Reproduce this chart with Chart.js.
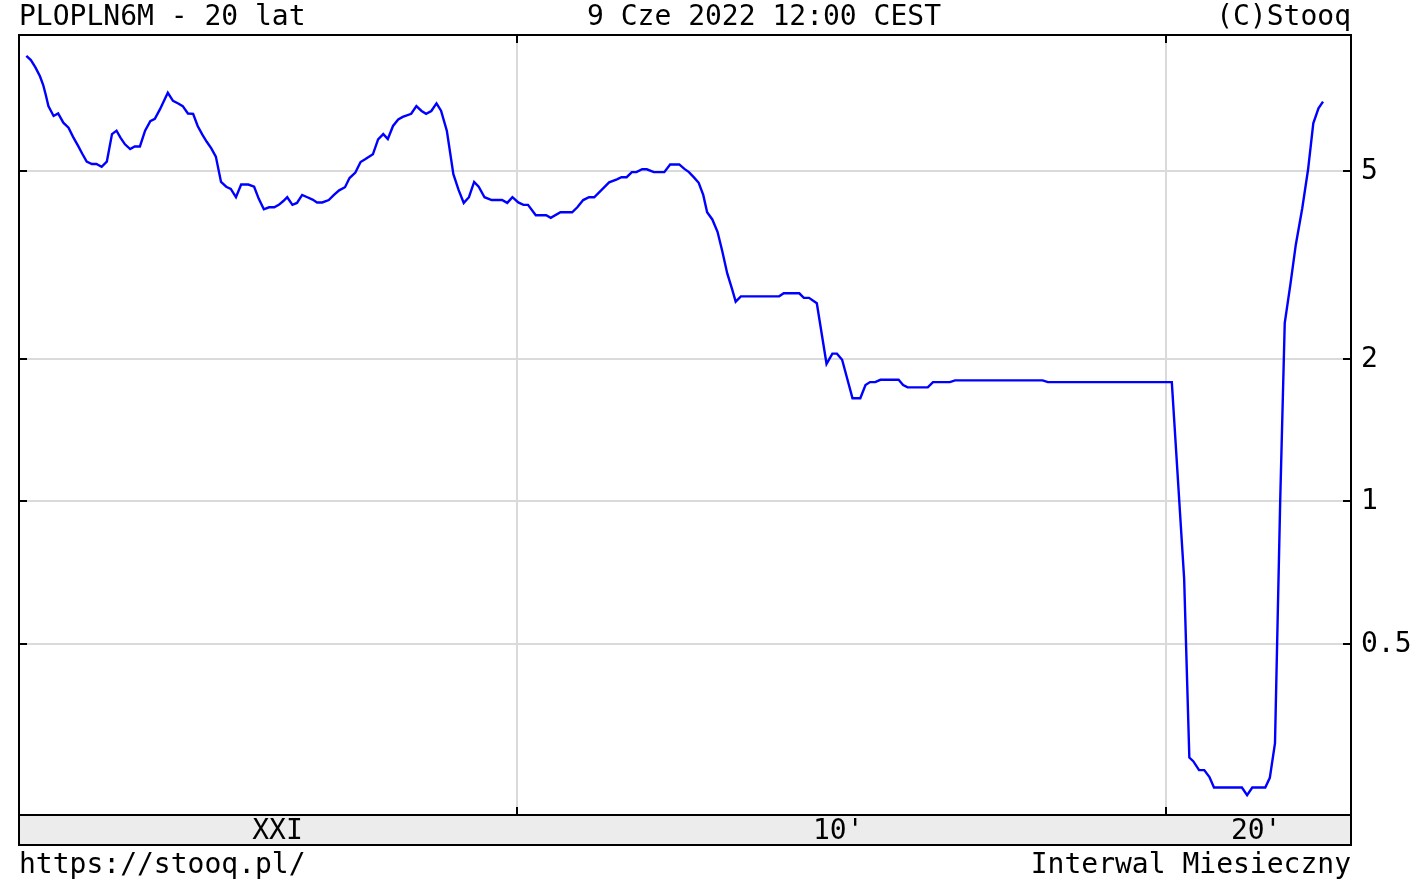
<!DOCTYPE html>
<html>
<head>
<meta charset="utf-8">
<title>PLOPLN6M - 20 lat</title>
<script src="https://cdn.jsdelivr.net/npm/chart.js@4/dist/chart.umd.min.js"></script>
<style>
  html, body { margin: 0; padding: 0; background: #fff; }
  canvas { display: block; }
</style>
</head>
<body>
<canvas id="chart" width="1413" height="879"></canvas>
<script>
// monthly closes (decimal year, rate in %)
var years = [
  2002.44, 2002.51, 2002.58, 2002.65, 2002.70, 2002.74, 2002.78, 2002.86, 2002.93, 2003.01,
  2003.09, 2003.16, 2003.24, 2003.30, 2003.37, 2003.45, 2003.52, 2003.60, 2003.68, 2003.76,
  2003.83, 2003.89, 2003.96, 2004.04, 2004.11, 2004.19, 2004.27, 2004.35, 2004.42, 2004.50,
  2004.62, 2004.70, 2004.78, 2004.85, 2004.93, 2005.01, 2005.08, 2005.15, 2005.22, 2005.29,
  2005.36, 2005.44, 2005.52, 2005.59, 2005.67, 2005.75, 2005.86, 2005.95, 2006.02, 2006.10,
  2006.18, 2006.26, 2006.33, 2006.40, 2006.46, 2006.54, 2006.61, 2006.69, 2006.77, 2006.85,
  2006.92, 2007.00, 2007.10, 2007.18, 2007.26, 2007.35, 2007.42, 2007.51, 2007.59, 2007.66,
  2007.78, 2007.86, 2007.94, 2008.01, 2008.09, 2008.17, 2008.24, 2008.37, 2008.45, 2008.53,
  2008.60, 2008.68, 2008.76, 2008.83, 2008.92, 2009.02, 2009.10, 2009.18, 2009.26, 2009.34,
  2009.41, 2009.50, 2009.61, 2009.77, 2009.85, 2009.93, 2010.02, 2010.10, 2010.17, 2010.29,
  2010.45, 2010.52, 2010.67, 2010.85, 2010.93, 2011.02, 2011.11, 2011.19, 2011.42, 2011.54,
  2011.61, 2011.69, 2011.77, 2011.84, 2011.93, 2012.00, 2012.11, 2012.27, 2012.36, 2012.50,
  2012.58, 2012.65, 2012.73, 2012.80, 2012.87, 2012.93, 2013.01, 2013.09, 2013.16, 2013.24,
  2013.31, 2013.37, 2013.45, 2014.04, 2014.11, 2014.35, 2014.42, 2014.50, 2014.62, 2014.77,
  2014.86, 2014.93, 2015.01, 2015.17, 2015.29, 2015.37, 2015.44, 2015.52, 2015.60, 2015.88,
  2015.95, 2016.02, 2016.33, 2016.41, 2016.67, 2016.75, 2018.10, 2018.18, 2020.09, 2020.28,
  2020.36, 2020.42, 2020.51, 2020.59, 2020.67, 2020.74, 2021.17, 2021.25, 2021.33, 2021.53,
  2021.60, 2021.68, 2021.76, 2021.83, 2021.92, 2022.00, 2022.10, 2022.19, 2022.27, 2022.35,
  2022.42
];
var rates = [
  8.74, 8.56, 8.26, 7.91, 7.58, 7.22, 6.84, 6.52, 6.60, 6.31,
  6.16, 5.89, 5.63, 5.43, 5.22, 5.16, 5.16, 5.09, 5.22, 5.97,
  6.07, 5.87, 5.68, 5.55, 5.62, 5.62, 6.07, 6.36, 6.43, 6.74,
  7.30, 7.02, 6.93, 6.84, 6.60, 6.59, 6.21, 5.96, 5.75, 5.57,
  5.35, 4.73, 4.62, 4.57, 4.39, 4.67, 4.67, 4.62, 4.36, 4.14,
  4.18, 4.18, 4.23, 4.31, 4.39, 4.23, 4.27, 4.44, 4.39, 4.34,
  4.28, 4.28, 4.33, 4.44, 4.54, 4.61, 4.82, 4.95, 5.21, 5.28,
  5.41, 5.82, 5.97, 5.83, 6.21, 6.41, 6.49, 6.59, 6.84, 6.68,
  6.59, 6.68, 6.93, 6.69, 6.06, 4.91, 4.55, 4.27, 4.39, 4.73,
  4.62, 4.39, 4.33, 4.33, 4.27, 4.39, 4.28, 4.23, 4.23, 4.02,
  4.02, 3.97, 4.08, 4.08, 4.18, 4.33, 4.39, 4.39, 4.72, 4.79,
  4.84, 4.84, 4.96, 4.96, 5.03, 5.03, 4.96, 4.96, 5.15, 5.15,
  5.04, 4.96, 4.83, 4.71, 4.44, 4.08, 3.94, 3.71, 3.39, 3.03,
  2.82, 2.64, 2.71, 2.71, 2.75, 2.75, 2.69, 2.69, 2.62, 1.95,
  2.05, 2.05, 1.99, 1.65, 1.65, 1.76, 1.785, 1.785, 1.805, 1.805,
  1.76, 1.74, 1.74, 1.785, 1.785, 1.80, 1.80, 1.785, 1.785, 0.686,
  0.287, 0.282, 0.270, 0.270, 0.261, 0.248, 0.248, 0.239, 0.248, 0.248,
  0.260, 0.308, 1.00, 2.38, 2.89, 3.48, 4.16, 5.03, 6.29, 6.77,
  6.99
];

var yTicks = [0.5, 1, 2, 5];
var yTickLabels = ['0.5', '1', '2', '5'];
var gridYears = [2010, 2020];
var bandPos = [2006.31, 2014.95, 2021.39];
var bandLabels = ['XXI', "10'", "20'"];

var FONT = '28px "DejaVu Sans Mono", monospace';

var points = years.map(function(yr, i) { return { x: yr, y: rates[i] }; });

// border, tick stubs, bottom band and all the texts
var frame = {
    id: 'frame',
    afterDraw: function(chart) {
        var ctx = chart.ctx;
        var a = chart.chartArea;
        var sx = chart.scales.x, sy = chart.scales.y;
        var bandH = 30;
        ctx.save();

        ctx.fillStyle = '#ececec';
        ctx.fillRect(a.left, a.bottom, a.right - a.left, bandH);
        ctx.strokeStyle = '#000';
        ctx.lineWidth = 2;
        ctx.strokeRect(a.left, a.top, a.right - a.left, a.bottom - a.top);
        ctx.strokeRect(a.left, a.bottom, a.right - a.left, bandH);

        ctx.beginPath();
        yTicks.forEach(function(v) {
            var py = Math.round(sy.getPixelForValue(v));
            ctx.moveTo(a.left, py); ctx.lineTo(a.left + 8, py);
            ctx.moveTo(a.right - 8, py); ctx.lineTo(a.right, py);
        });
        gridYears.forEach(function(v) {
            var px = Math.round(sx.getPixelForValue(v));
            ctx.moveTo(px, a.top); ctx.lineTo(px, a.top + 8);
            ctx.moveTo(px, a.bottom - 8); ctx.lineTo(px, a.bottom);
        });
        ctx.stroke();

        ctx.fillStyle = '#000';
        ctx.font = FONT;
        ctx.textBaseline = 'alphabetic';

        ctx.textAlign = 'left';
        ctx.fillText('PLOPLN6M - 20 lat', a.left, 25);
        ctx.fillText('9 Cze 2022 12:00 CEST', 587, 25);
        ctx.fillText('https://stooq.pl/', a.left, 873);
        ctx.textAlign = 'right';
        ctx.fillText('(C)Stooq', a.right, 25);
        ctx.fillText('Interwal Miesieczny', a.right, 873);

        ctx.textAlign = 'center';
        bandPos.forEach(function(v, i) {
            ctx.fillText(bandLabels[i], sx.getPixelForValue(v), a.bottom + 24);
        });

        ctx.textAlign = 'left';
        ctx.textBaseline = 'middle';
        yTicks.forEach(function(v, i) {
            ctx.fillText(yTickLabels[i], a.right + 10, sy.getPixelForValue(v) + 1);
        });
        ctx.restore();
    }
};

var ctx = document.getElementById('chart').getContext('2d');
var chart = new Chart(ctx, {
    type: 'line',
    data: {
        datasets: [{
            label: 'PLOPLN6M',
            data: points,
            borderColor: '#0000ff',
            borderWidth: 2.4,
            pointRadius: 0,
            tension: 0,
            fill: false
        }]
    },
    options: {
        responsive: false,
        animation: false,
        devicePixelRatio: 1,
        layout: { padding: { left: 19, top: 35, right: 62, bottom: 64 } },
        plugins: { legend: { display: false }, tooltip: { enabled: false } },
        scales: {
            x: {
                type: 'linear',
                min: 2002.327,
                max: 2022.851,
                grid: { color: '#dadada', lineWidth: 2, drawTicks: false },
                border: { display: false },
                ticks: { display: false },
                afterBuildTicks: function(s) { s.ticks = gridYears.map(function(v) { return { value: v }; }); },
                afterFit: function(s) { s.height = 0; }
            },
            y: {
                type: 'logarithmic',
                position: 'right',
                min: 0.217,
                max: 9.67,
                grid: { color: '#dadada', lineWidth: 2, drawTicks: false },
                border: { display: false },
                ticks: { display: false },
                afterBuildTicks: function(s) { s.ticks = yTicks.map(function(v) { return { value: v }; }); },
                afterFit: function(s) { s.width = 0; }
            }
        }
    },
    plugins: [frame]
});
</script>
</body>
</html>
